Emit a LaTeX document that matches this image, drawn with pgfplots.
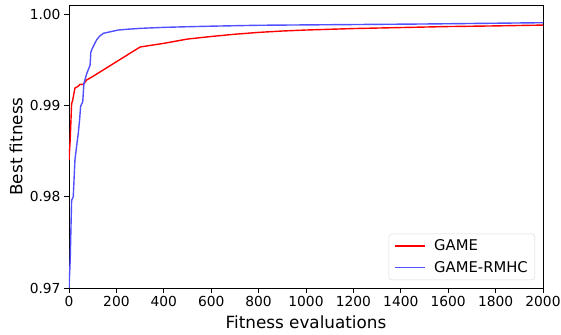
\documentclass[border=0pt]{standalone}
\usepackage{fontspec}
\setmainfont{DejaVu Sans}
\usepackage{pgfplots}
\pgfplotsset{compat=1.18}
\definecolor{gblue}{RGB}{80,80,255}
\begin{document}
\begin{tikzpicture}
\begin{axis}[
  scale only axis,
  width=474bp, height=283bp,
  xmin=0, xmax=2000, ymin=0.97, ymax=1.001,
  xtick={0,200,...,2000},
  ytick={0.97,0.98,0.99,1.00},
  scaled x ticks=false, scaled y ticks=false,
  x tick label style={/pgf/number format/.cd, fixed, 1000 sep={}, assume math mode=true},
  y tick label style={/pgf/number format/.cd, fixed, fixed zerofill, precision=2, assume math mode=true},
  tick label style={font=\fontsize{13.8bp}{16bp}\selectfont},
  tick align=outside, tick pos=left,
  major tick length=5bp,
  axis line style={black, line width=0.8bp},
  every tick/.style={black, line width=0.8bp},
  xlabel={Fitness evaluations}, ylabel={Best fitness},
  every axis x label/.style={at={(axis description cs:0.5,0)}, anchor=center, yshift=-34bp, font=\fontsize{16.8bp}{19bp}\selectfont},
  every axis y label/.style={at={(axis description cs:0,0.5)}, anchor=center, xshift=-53bp, rotate=90, font=\fontsize{16.8bp}{19bp}\selectfont},
  legend style={at={(1,0)}, anchor=south east, xshift=-8bp, yshift=8bp, draw=black!15, rounded corners=3bp,
    font=\fontsize{14.8bp}{17bp}\selectfont, inner xsep=5bp, inner ysep=4bp, row sep=5bp,
    /tikz/every odd column/.append style={column sep=7bp}},
  legend cell align=left,
  legend image code/.code={\draw[#1] (0bp,0bp) -- (30bp,0bp);},
]
\addplot[red, line width=1.4bp] coordinates {
(0,0.9840) (5,0.9862) (11,0.9902) (15,0.9905) (20,0.9912) (25,0.9919) (39,0.9921) (46,0.9923) (60,0.9923) (75,0.9928) (96,0.9931)
(300,0.9964) (400,0.9968) (500,0.99727) (600,0.99755) (700,0.9978) (800,0.9980) (900,0.99815) (1000,0.99826)
(1200,0.99842) (1400,0.99853) (1600,0.99864) (1800,0.99871) (2000,0.99880)
};
\addlegendentry{GAME}
\addplot[gblue, line width=1.4bp] coordinates {
(0,0.9700) (5,0.9730) (11,0.9796) (18,0.9800) (25,0.9840) (32,0.9855) (39,0.9869) (45,0.9885) (49,0.9899) (58,0.9904)
(63,0.9924) (75,0.9935) (89,0.9944) (92,0.9958) (96,0.9961) (105,0.9966) (117,0.9972) (130,0.9976) (145,0.9979)
(208,0.99826) (250,0.99835) (300,0.99844) (400,0.99855) (500,0.99862) (600,0.99868) (800,0.99878) (1000,0.99882)
(1500,0.99892) (2000,0.99906)
};
\addlegendentry{GAME-RMHC}
\end{axis}
\pgfresetboundingbox
\useasboundingbox ([shift={(-69bp,-47bp)}]current axis.south west) rectangle ([shift={(18bp,5bp)}]current axis.north east);
\end{tikzpicture}
\end{document}
